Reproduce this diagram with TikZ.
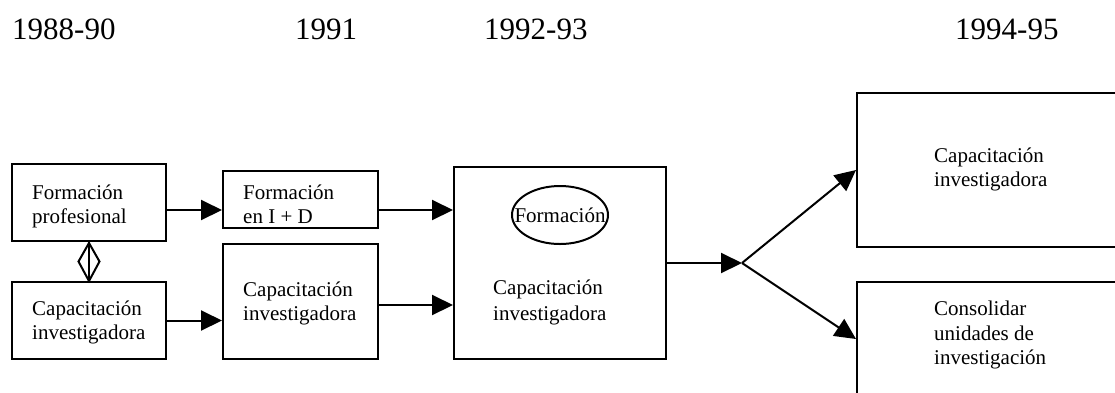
\documentclass[tikz,border=0pt]{standalone}
\usepackage{fontspec}
\setmainfont{Liberation Serif}
\usetikzlibrary{arrows.meta,shapes.geometric,calc}
\begin{document}
\begin{tikzpicture}[x=1pt,y=-1pt,
  box/.style={draw, line width=2pt, rectangle, inner sep=0pt},
  txt/.style={anchor=base west, inner sep=0pt, align=left, font=\fontsize{21}{24.5}\selectfont},
  yr/.style={anchor=base west, inner sep=0pt, font=\fontsize{31}{36}\selectfont},
  arr/.style={line width=2pt, -{Triangle[length=21pt,width=20pt]}},
  dia/.style={line width=2pt, line join=miter}]
\useasboundingbox (0,0) rectangle (1115,392);
\clip (0,0) rectangle (1115,392);
% years
\node[yr] (y1) at (12,39) {1988-90};
\node[yr] (y2) at (295,39) {1991};
\node[yr] (y3) at (484,39) {1992-93};
\node[yr] (y4) at (955,39) {1994-95};
% boxes
\node[box, minimum width=154pt, minimum height=77pt] (A) at (89,202.5) {};
\node[box, minimum width=155pt, minimum height=57pt] (B) at (300.5,199.5) {};
\node[box, minimum width=154pt, minimum height=77pt] (C) at (89,320.5) {};
\node[box, minimum width=155pt, minimum height=115pt] (D) at (300.5,301.5) {};
\node[box, minimum width=212pt, minimum height=192pt] (E) at (560,263) {};
\node[box, minimum width=268pt, minimum height=154pt] (F) at (991,170) {};
\node[box, minimum width=268pt, minimum height=114pt] (G) at (991,339) {};
\node[draw, ellipse, line width=2pt, minimum width=96pt, minimum height=58pt, inner sep=0pt,
  label={[font=\fontsize{21}{24.5}\selectfont, inner sep=0pt]center:Formación}] (ell) at (560,215) {};
% texts
\node[txt] (tA1) at (32,199) {Formación};
\node[txt] (tA2) at (32,223) {profesional};
\node[txt] (tB1) at (243,199) {Formación};
\node[txt] (tB2) at (243,223) {en I + D};
\node[txt] (tC1) at (32,315) {Capacitación};
\node[txt] (tC2) at (32,339) {investigadora};
\node[txt] (tD1) at (243,296) {Capacitación};
\node[txt] (tD2) at (243,320) {investigadora};
\node[txt] (tE1) at (493,294) {Capacitación};
\node[txt] (tE2) at (493,320) {investigadora};
\node[txt] (tF1) at (934,162) {Capacitación};
\node[txt] (tF2) at (934,186) {investigadora};
\node[txt] (tG1) at (934,315) {Consolidar};
\node[txt] (tG2) at (934,340) {unidades de};
\node[txt] (tG3) at (934,364) {investigación};
% connectors
\coordinate (J) at (742,263);
\draw[arr] ([yshift=-7.5pt]A.east) -- ([yshift=-7.5pt]A.east -| B.west);
\draw[arr] ([yshift=-10.5pt]B.east) -- ([yshift=-10.5pt]B.east -| E.west);
\draw[arr] (C.east) -- (C.east -| D.west);
\draw[arr] ([yshift=-3.5pt]D.east) -- ([yshift=-3.5pt]D.east -| E.west);
\draw[arr] (E.east) -- (J);
\draw[arr] (J) -- (F.west);
\draw[arr] (J) -- (G.west);
\draw[line width=1.2pt] (A.south) -- (C.north);
\draw[dia] ([yshift=-1pt]A.south) -- ($(A.south)!0.5!(C.north)+(-10.5,0)$)
  -- (C.north) -- ($(A.south)!0.5!(C.north)+(10.5,0)$) -- cycle;
\end{tikzpicture}
\end{document}
